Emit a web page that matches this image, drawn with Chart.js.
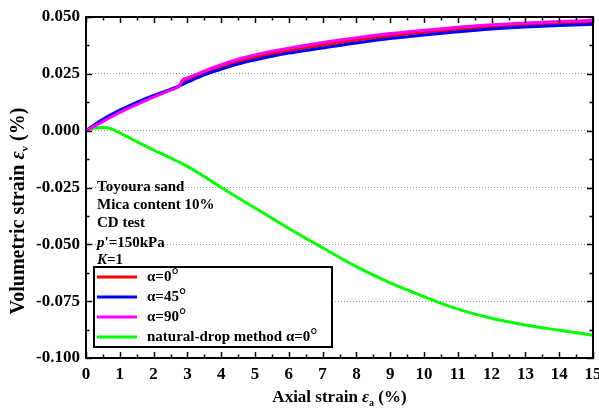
<!DOCTYPE html>
<html>
<head>
<meta charset="utf-8">
<script src="https://cdn.jsdelivr.net/npm/chart.js@4.4.1/dist/chart.umd.min.js"></script>
<style>
  html, body { margin: 0; padding: 0; background: #fff; }
  #wrap { width: 599px; height: 410px; }
</style>
</head>
<body>
<div id="wrap"><canvas id="c" width="599" height="410"></canvas></div>
<script>
// axial strain (%) sampled for the three alpha curves
const strainAlpha = [0, 0.5, 1, 1.5, 2, 2.5, 2.75, 2.85, 3, 3.5, 4, 4.5, 5, 5.5, 6, 6.5, 7, 8, 9, 10, 11, 12, 13, 14, 15];
const volAlpha0  = [0, .0045, .0085, .012, .015, .018, .0195, .0208, .0222, .0254, .028, .0304, .0323, .0338, .0352, .0365, .0377, .0399, .0418, .0433, .0446, .0458, .0467, .0474, .0479];
const volAlpha45 = [0, .005, .009, .0125, .0155, .0182, .0196, .0203, .0213, .0245, .027, .0293, .0311, .0327, .0341, .0353, .0364, .0386, .0405, .0421, .0435, .0447, .0456, .0463, .0468];
const volAlpha90 = [0, .004, .008, .0115, .0148, .0178, .0195, .0222, .0232, .0262, .029, .0314, .0333, .0349, .0363, .0376, .0388, .0409, .0427, .0442, .0455, .0466, .0474, .0480, .0485];

// natural-drop method, alpha = 0
const strainDrop = [0, 0.25, 0.5, 0.75, 1, 1.5, 2, 2.5, 3, 3.5, 4, 5, 6, 7, 8, 9, 10, 11, 12, 13, 14, 15];
const volDrop    = [0, .0012, .0014, .0008, -.001, -.0048, -.0085, -.012, -.0157, -.0202, -.025, -.034, -.043, -.0515, -.0598, -.067, -.073, -.0785, -.0825, -.0855, -.0878, -.090];

const seriesNames = ['α=0', 'α=45', 'α=90', 'natural-drop method α=0'];
const seriesColors = ['#ff0000', '#0000ff', '#ff00ff', '#00ff00'];

const xTicks = [0, 1, 2, 3, 4, 5, 6, 7, 8, 9, 10, 11, 12, 13, 14, 15];
const yTicks = [0.05, 0.025, 0, -0.025, -0.05, -0.075, -0.1];
const noteLines = ['Toyoura sand', 'Mica content 10%', 'CD test', "p'=150kPa", 'K=1'];

const SERIF = '"Liberation Serif", "Times New Roman", serif';

const pts = (xs, ys) => xs.map((x, i) => ({ x, y: ys[i] }));

function lineSet(i, data, order) {
  return {
    label: seriesNames[i],
    data,
    borderColor: seriesColors[i],
    borderWidth: 3,
    pointRadius: 0,
    cubicInterpolationMode: 'monotone',
    order,
  };
}

// draws text pieces [{t, font, dy}] left to right starting at x
function drawRuns(ctx, runs, x, y) {
  for (const r of runs) {
    ctx.font = r.font;
    ctx.fillText(r.t, x, y + (r.dy || 0));
    x += ctx.measureText(r.t).width;
  }
  return x;
}
function runsWidth(ctx, runs) {
  let w = 0;
  for (const r of runs) { ctx.font = r.font; w += ctx.measureText(r.t).width; }
  return w;
}

const framePlugin = {
  id: 'frame',
  afterDraw(chart) {
    const { ctx, chartArea: a, scales } = chart;
    const xs = scales.x, ys = scales.y;
    ctx.save();
    ctx.strokeStyle = '#000';
    ctx.fillStyle = '#000';

    // inward ticks on all four sides
    ctx.lineWidth = 1.5;
    for (let v = 0; v <= 15.001; v += 0.5) {
      const px = Math.round(xs.getPixelForValue(v)) + 0.5;
      const len = Math.abs(v - Math.round(v)) < 1e-6 ? 6 : 3.5;
      ctx.beginPath();
      ctx.moveTo(px, a.bottom); ctx.lineTo(px, a.bottom - len);
      ctx.moveTo(px, a.top); ctx.lineTo(px, a.top + len);
      ctx.stroke();
    }
    for (let k = 0; k <= 12; k++) {
      const v = -0.1 + k * 0.0125;
      const py = Math.round(ys.getPixelForValue(v)) + 0.5;
      const len = k % 2 === 0 ? 6 : 3.5;
      ctx.beginPath();
      ctx.moveTo(a.left, py); ctx.lineTo(a.left + len, py);
      ctx.moveTo(a.right, py); ctx.lineTo(a.right - len, py);
      ctx.stroke();
    }

    // frame
    ctx.lineWidth = 2;
    ctx.strokeRect(a.left, a.top, a.right - a.left, a.bottom - a.top);

    // note text
    ctx.textBaseline = 'middle';
    ctx.textAlign = 'left';
    const b = 'bold 15px ' + SERIF, bi = 'italic bold 15px ' + SERIF;
    const noteY = [187, 205, 223, 243, 260];
    drawRuns(ctx, [{ t: noteLines[0], font: b }], 97, noteY[0]);
    drawRuns(ctx, [{ t: noteLines[1], font: b }], 97, noteY[1]);
    drawRuns(ctx, [{ t: noteLines[2], font: b }], 97, noteY[2]);
    drawRuns(ctx, [{ t: 'p', font: bi }, { t: noteLines[3].slice(1), font: b }], 97, noteY[3]);
    drawRuns(ctx, [{ t: 'K', font: bi }, { t: noteLines[4].slice(1), font: b }], 97, noteY[4]);

    // legend box
    ctx.fillStyle = '#fff';
    ctx.fillRect(94, 267, 238, 80);
    ctx.lineWidth = 2;
    ctx.strokeRect(94, 267, 238, 80);
    const legY = [277, 297, 317, 337];
    seriesNames.forEach((name, i) => {
      ctx.strokeStyle = seriesColors[i];
      ctx.lineWidth = 3;
      ctx.beginPath();
      ctx.moveTo(97, legY[i]); ctx.lineTo(137, legY[i]);
      ctx.stroke();
      ctx.fillStyle = '#000';
      drawRuns(ctx, [
        { t: name, font: b },
        { t: '°', font: 'bold 18px ' + SERIF, dy: -1 },
      ], 147, legY[i]);
    });

    // axis titles with subscripts
    const tf = 'bold 17px ' + SERIF, tfi = 'italic bold 17px ' + SERIF, sub = 'bold 10px ' + SERIF;
    const xRuns = [
      { t: 'Axial strain ', font: tf },
      { t: 'ε', font: tfi },
      { t: 'a', font: sub, dy: 5 },
      { t: ' (%)', font: tf },
    ];
    ctx.fillStyle = '#000';
    const xw = runsWidth(ctx, xRuns);
    drawRuns(ctx, xRuns, (a.left + a.right) / 2 - xw / 2, 398);

    const yf = 'bold 20px ' + SERIF, yfi = 'italic bold 20px ' + SERIF, ysub = 'bold 11px ' + SERIF;
    const yRuns = [
      { t: 'Volumetric strain ', font: yf },
      { t: 'ε', font: yfi },
      { t: 'v', font: ysub, dy: 6 },
      { t: ' (%)', font: yf },
    ];
    const yw = runsWidth(ctx, yRuns);
    ctx.translate(19, 211);
    ctx.rotate(-Math.PI / 2);
    drawRuns(ctx, yRuns, -yw / 2, 0);
    ctx.restore();
  },
};

new Chart(document.getElementById('c'), {
  type: 'line',
  data: {
    datasets: [
      lineSet(0, pts(strainAlpha, volAlpha0), 2),
      lineSet(1, pts(strainAlpha, volAlpha45), 1),
      lineSet(2, pts(strainAlpha, volAlpha90), 0),
      lineSet(3, pts(strainDrop, volDrop), 3),
    ],
  },
  options: {
    responsive: false,
    animation: false,
    layout: { padding: { top: 17, right: 6, left: 0, bottom: 0 } },
    plugins: { legend: { display: false }, tooltip: { enabled: false } },
    scales: {
      x: {
        type: 'linear',
        min: 0, max: 15,
        afterBuildTicks: (s) => { s.ticks = xTicks.map((value) => ({ value })); },
        afterFit: (s) => { s.height = 52; s.paddingLeft = 0; s.paddingRight = 0; },
        grid: { display: false, drawTicks: false },
        border: { display: false },
        ticks: {
          padding: 6,
          color: '#000',
          maxRotation: 0,
          font: { family: SERIF, size: 17, weight: 'bold' },
        },
      },
      y: {
        type: 'linear',
        min: -0.1, max: 0.05,
        afterBuildTicks: (s) => { s.ticks = yTicks.map((value) => ({ value })); },
        afterFit: (s) => { s.width = 86; s.paddingTop = 0; s.paddingBottom = 0; },
        grid: {
          drawTicks: false,
          lineWidth: 1,
          color: (c) => (c.tick && (c.tick.value > 0.04 || c.tick.value < -0.09)) ? 'rgba(0,0,0,0)' : '#999',
        },
        border: { display: false, dash: [1, 2] },
        ticks: {
          padding: 6,
          color: '#000',
          font: { family: SERIF, size: 17, weight: 'bold' },
          callback: (v) => Number(v).toFixed(3),
        },
      },
    },
  },
  plugins: [framePlugin],
});
</script>
</body>
</html>
